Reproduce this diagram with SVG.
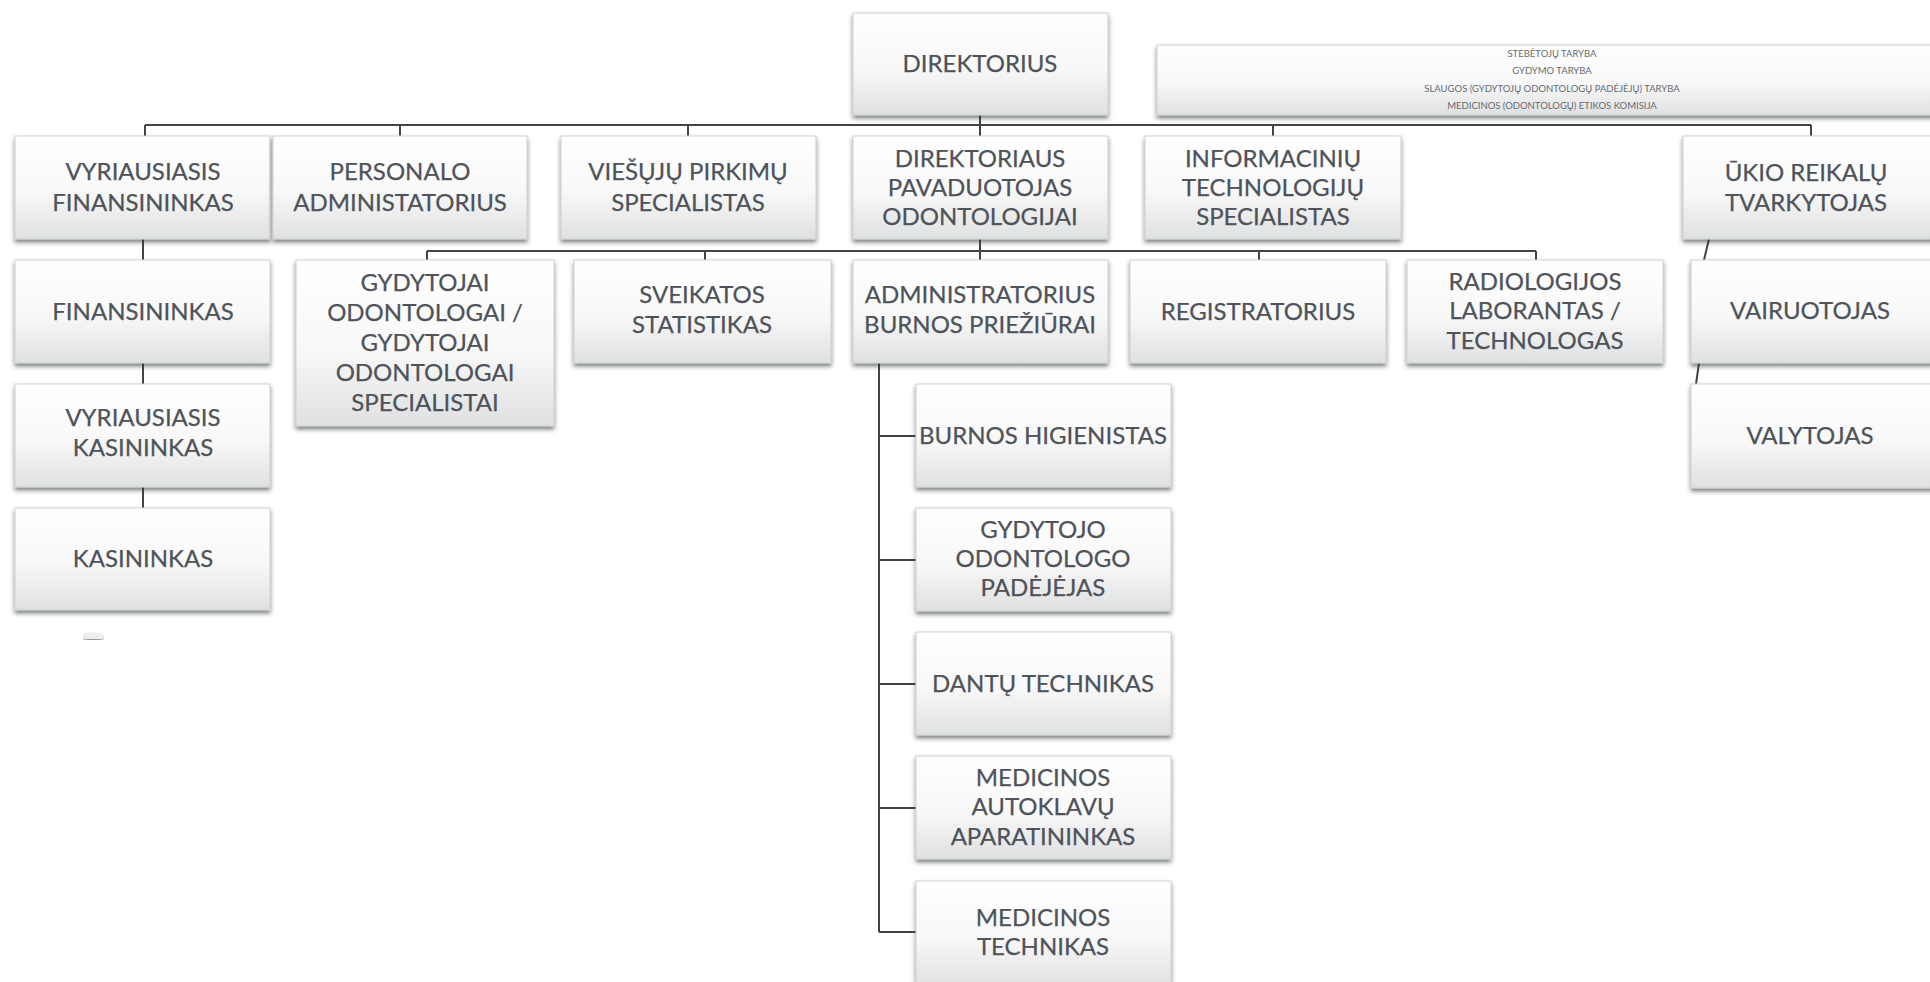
<svg xmlns="http://www.w3.org/2000/svg" width="1930" height="982" viewBox="0 0 1930 982">
<defs>
<linearGradient id="bg" x1="0" y1="0" x2="0" y2="1">
<stop offset="0" stop-color="#ffffff"/>
<stop offset="0.55" stop-color="#f8f8f8"/>
<stop offset="1" stop-color="#dfe0e1"/>
</linearGradient>
<filter id="sh" x="-5%" y="-10%" width="110%" height="125%">
<feDropShadow dx="0" dy="3" stdDeviation="2.2" flood-color="#2e3135" flood-opacity="0.6"/>
</filter>
<style>
.box{fill:url(#bg);stroke:#cdcfd1;stroke-width:1;filter:url(#sh)}
.t{font-family:Lato,"Liberation Sans",sans-serif;font-size:24px;fill:#4e535a;text-anchor:middle;stroke:#4e535a;stroke-width:0.25}
.s{font-family:Lato,"Liberation Sans",sans-serif;font-size:9.5px;fill:#666a6e;text-anchor:middle}
.c{fill:none;stroke:#404449;stroke-width:2}
</style>
</defs>
<rect width="1930" height="982" fill="#ffffff"/>

<g id="connectors" class="c">
<path d="M980 115V125M145 125H1811M145 125V136M400 125V136M688 125V136M980 125V136M1273 125V136M1811 125V136"/>
<path d="M980 239V260M427 251H1536M427 251V260M705 251V260M1259 251V260M1536 251V260"/>
<path d="M143 239V260M143 363V384M143 487V508"/>
<path d="M879 363V932M879 436H916M879 560H916M879 684H916M879 808H916M879 932H916"/>
<path d="M1709 239L1704 260M1699 363L1696 384"/>
</g>

<g id="direktorius"><rect class="box" x="853" y="13" width="255" height="102"/><text class="t" x="980" y="72">DIREKTORIUS</text></g>
<g id="tarybos"><rect class="box" x="1157" y="45" width="790" height="70"/>
<text class="s" x="1552" y="57">STEBĖTOJŲ TARYBA</text>
<text class="s" x="1552" y="74">GYDYMO TARYBA</text>
<text class="s" x="1552" y="92">SLAUGOS (GYDYTOJŲ ODONTOLOGŲ PADĖJĖJŲ) TARYBA</text>
<text class="s" x="1552" y="109">MEDICINOS (ODONTOLOGŲ) ETIKOS KOMISIJA</text></g>

<g id="vyr-finansininkas"><rect class="box" x="15" y="136" width="255" height="103"/><text class="t" x="143" y="180">VYRIAUSIASIS</text><text class="t" x="143" y="211">FINANSININKAS</text></g>
<g id="personalo"><rect class="box" x="273" y="136" width="254" height="103"/><text class="t" x="400" y="180">PERSONALO</text><text class="t" x="400" y="211">ADMINISTATORIUS</text></g>
<g id="viesieji-pirkimai"><rect class="box" x="561" y="136" width="255" height="103"/><text class="t" x="688" y="180">VIEŠŲJŲ PIRKIMŲ</text><text class="t" x="688" y="211">SPECIALISTAS</text></g>
<g id="dir-pavaduotojas"><rect class="box" x="853" y="136" width="255" height="103"/><text class="t" x="980" y="167">DIREKTORIAUS</text><text class="t" x="980" y="196">PAVADUOTOJAS</text><text class="t" x="980" y="225">ODONTOLOGIJAI</text></g>
<g id="it-specialistas"><rect class="box" x="1145" y="136" width="256" height="103"/><text class="t" x="1273" y="167">INFORMACINIŲ</text><text class="t" x="1273" y="196">TECHNOLOGIJŲ</text><text class="t" x="1273" y="225">SPECIALISTAS</text></g>
<g id="ukio"><rect class="box" x="1683" y="136" width="260" height="103"/><text class="t" x="1806" y="181">ŪKIO REIKALŲ</text><text class="t" x="1806" y="211">TVARKYTOJAS</text></g>

<g id="finansininkas"><rect class="box" x="15" y="260" width="255" height="103"/><text class="t" x="143" y="320">FINANSININKAS</text></g>
<g id="gydytojai"><rect class="box" x="296" y="260" width="258" height="166"/><text class="t" x="425" y="291">GYDYTOJAI</text><text class="t" x="425" y="321">ODONTOLOGAI /</text><text class="t" x="425" y="351">GYDYTOJAI</text><text class="t" x="425" y="381">ODONTOLOGAI</text><text class="t" x="425" y="411">SPECIALISTAI</text></g>
<g id="sveikatos"><rect class="box" x="574" y="260" width="257" height="103"/><text class="t" x="702" y="303">SVEIKATOS</text><text class="t" x="702" y="333">STATISTIKAS</text></g>
<g id="administratorius"><rect class="box" x="853" y="260" width="255" height="103"/><text class="t" x="980" y="303">ADMINISTRATORIUS</text><text class="t" x="980" y="333">BURNOS PRIEŽIŪRAI</text></g>
<g id="registratorius"><rect class="box" x="1130" y="260" width="256" height="103"/><text class="t" x="1258" y="320">REGISTRATORIUS</text></g>
<g id="radiologijos"><rect class="box" x="1407" y="260" width="256" height="103"/><text class="t" x="1535" y="290">RADIOLOGIJOS</text><text class="t" x="1535" y="319">LABORANTAS /</text><text class="t" x="1535" y="349">TECHNOLOGAS</text></g>
<g id="vairuotojas"><rect class="box" x="1691" y="260" width="256" height="103"/><text class="t" x="1810" y="319">VAIRUOTOJAS</text></g>

<g id="vyr-kasininkas"><rect class="box" x="15" y="384" width="255" height="103"/><text class="t" x="143" y="426">VYRIAUSIASIS</text><text class="t" x="143" y="456">KASININKAS</text></g>
<g id="kasininkas"><rect class="box" x="15" y="508" width="255" height="102"/><text class="t" x="143" y="567">KASININKAS</text></g>
<g id="valytojas"><rect class="box" x="1691" y="384" width="256" height="104"/><text class="t" x="1810" y="444">VALYTOJAS</text></g>

<g id="burnos-higienistas"><rect class="box" x="916" y="384" width="255" height="103"/><text class="t" x="1043" y="444">BURNOS HIGIENISTAS</text></g>
<g id="gydytojo-padejejas"><rect class="box" x="916" y="508" width="255" height="103"/><text class="t" x="1043" y="538">GYDYTOJO</text><text class="t" x="1043" y="567">ODONTOLOGO</text><text class="t" x="1043" y="596">PADĖJĖJAS</text></g>
<g id="dantu-technikas"><rect class="box" x="916" y="632" width="255" height="103"/><text class="t" x="1043" y="692">DANTŲ TECHNIKAS</text></g>
<g id="autoklavu"><rect class="box" x="916" y="756" width="255" height="103"/><text class="t" x="1043" y="786">MEDICINOS</text><text class="t" x="1043" y="815">AUTOKLAVŲ</text><text class="t" x="1043" y="845">APARATININKAS</text></g>
<g id="medicinos-technikas"><rect class="box" x="916" y="881" width="255" height="106"/><text class="t" x="1043" y="926">MEDICINOS</text><text class="t" x="1043" y="955">TECHNIKAS</text></g>

<rect x="84" y="633" width="19" height="6" rx="3" fill="#eeeeee" filter="url(#sh)"/>
</svg>
